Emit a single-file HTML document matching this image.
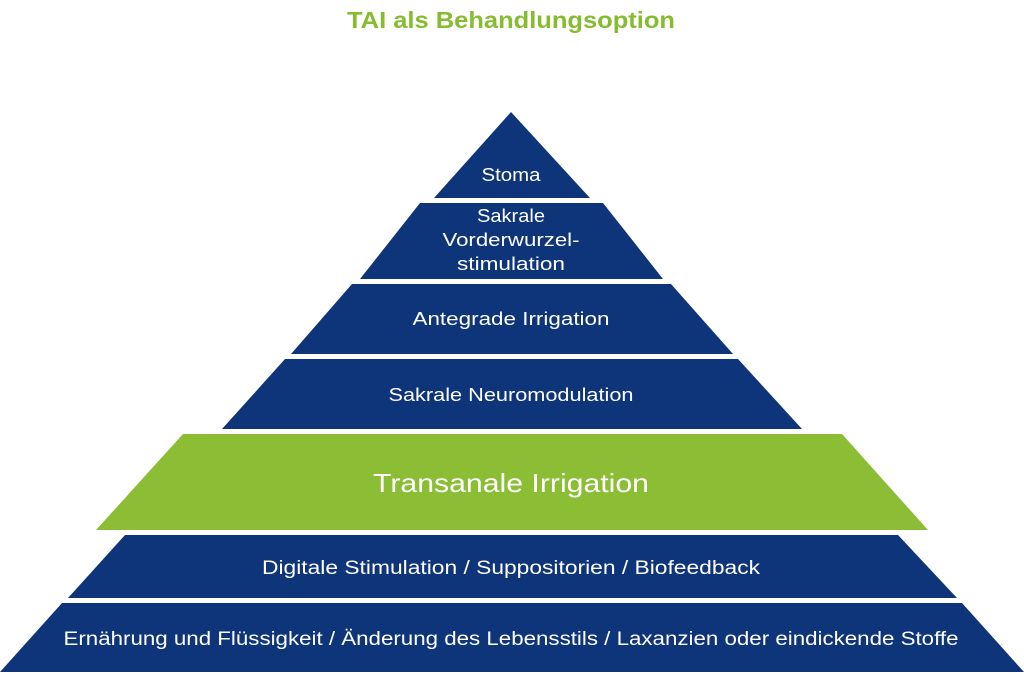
<!DOCTYPE html>
<html><head><meta charset="utf-8"><style>
body{margin:0;width:1024px;height:672px;background:#fff;overflow:hidden}
svg text{font-family:"Liberation Sans","DejaVu Sans",sans-serif;fill:#fff;text-anchor:middle}
</style></head><body>
<svg width="1024" height="672" viewBox="0 0 1024 672">
<text x="511" y="28" textLength="328" lengthAdjust="spacingAndGlyphs" style="fill:#86bc2f;font-size:23px;font-weight:bold">TAI als Behandlungsoption</text>
<g fill="#0e3479">
<polygon points="511,112 590,198 434,198"/>
<polygon points="420,203 603,203 663,279 360,279"/>
<polygon points="352,284 671,284 733,354 291,354"/>
<polygon points="285,359 738,359 802,429 222,429"/>
<polygon points="125,535 898,535 957,598 68,598"/>
<polygon points="62,603 962,603 1024,672 0,672"/>
</g>
<polygon fill="#8bbd35" points="183,434 842,434 928,530 96,530"/>
<text x="511" y="181" font-size="18" textLength="59" lengthAdjust="spacingAndGlyphs">Stoma</text>
<text x="511" y="222" font-size="18" textLength="68" lengthAdjust="spacingAndGlyphs">Sakrale</text>
<text x="511" y="246" font-size="18" textLength="137" lengthAdjust="spacingAndGlyphs">Vorderwurzel-</text>
<text x="511" y="270" font-size="18" textLength="108" lengthAdjust="spacingAndGlyphs">stimulation</text>
<text x="511" y="325" font-size="18" textLength="197" lengthAdjust="spacingAndGlyphs">Antegrade Irrigation</text>
<text x="511" y="401" font-size="18" textLength="245" lengthAdjust="spacingAndGlyphs">Sakrale Neuromodulation</text>
<text x="511" y="492" font-size="26" textLength="276" lengthAdjust="spacingAndGlyphs">Transanale Irrigation</text>
<text x="511" y="574" font-size="19" textLength="498" lengthAdjust="spacingAndGlyphs">Digitale Stimulation / Suppositorien / Biofeedback</text>
<text x="511" y="645" font-size="19" textLength="895" lengthAdjust="spacingAndGlyphs">Ernährung und Flüssigkeit / Änderung des Lebensstils / Laxanzien oder eindickende Stoffe</text>
</svg>
</body></html>
